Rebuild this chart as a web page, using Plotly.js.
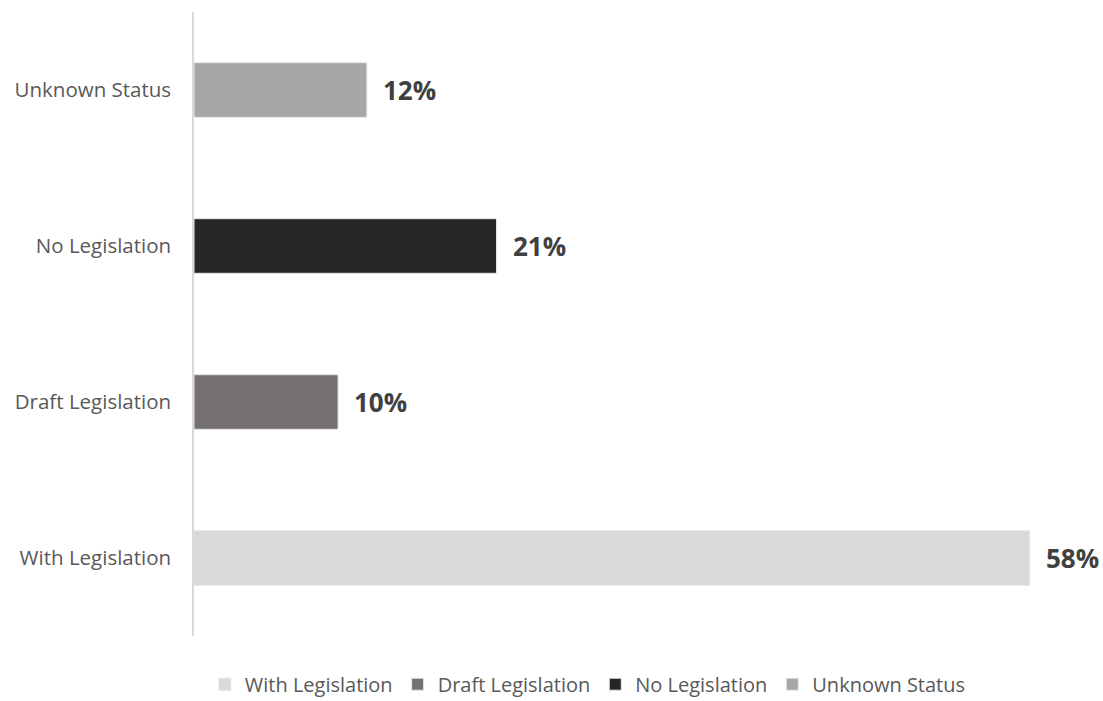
<!DOCTYPE html>
<html>
<head>
<meta charset="utf-8">
<script src="https://cdn.plot.ly/plotly-3.0.1.min.js"></script>
<style>html,body{margin:0;padding:0;background:#fff;}#chart{width:1103px;height:701px;}</style>
</head>
<body>
<div id="chart"></div>
<script>
const categories = ['With Legislation', 'Draft Legislation', 'No Legislation', 'Unknown Status'];
const values = [58, 10, 21, 12];
const colors = ['#d9d9d9', '#767171', '#262626', '#a6a6a6'];

const traces = categories.map((c, i) => ({
  type: 'bar',
  orientation: 'h',
  name: c,
  x: [values[i]],
  y: [c],
  width: 0.35,
  marker: {color: colors[i], line: {color: '#e6e6e6', width: 1}},
  hoverinfo: 'x+y'
}));

const annotations = categories.map((c, i) => ({
  x: values[i], y: c, xref: 'x', yref: 'y',
  text: '<b>' + values[i] + '%</b>',
  showarrow: false, xanchor: 'left', yanchor: 'middle', xshift: 14,
  font: {family: 'Open Sans, sans-serif', size: 26, color: '#404040'}
}));

const layout = {
  width: 1103, height: 701,
  margin: {l: 194, r: 10, t: 12, b: 65, autoexpand: false},
  paper_bgcolor: '#ffffff', plot_bgcolor: '#ffffff',
  barmode: 'overlay',
  showlegend: true,
  legend: {orientation: 'h', x: 0.012, xanchor: 'left', xref: 'paper', y: -0.046, yanchor: 'top',
           font: {family: 'Open Sans, sans-serif', size: 20, color: '#595959'}, traceorder: 'normal'},
  xaxis: {range: [0, 62.4], showgrid: false, zeroline: false, showticklabels: false, showline: false, fixedrange: true},
  yaxis: {type: 'category', categoryorder: 'array', categoryarray: categories,
          showline: true, linecolor: '#d9d9d9', linewidth: 1.5, showgrid: false, zeroline: false,
          ticks: '', ticklabelstandoff: 17,
          tickfont: {family: 'Open Sans, sans-serif', size: 20.5, color: '#595959'}},
  annotations: annotations
};

Plotly.newPlot('chart', traces, layout, {displayModeBar: false});
</script>
</body>
</html>
